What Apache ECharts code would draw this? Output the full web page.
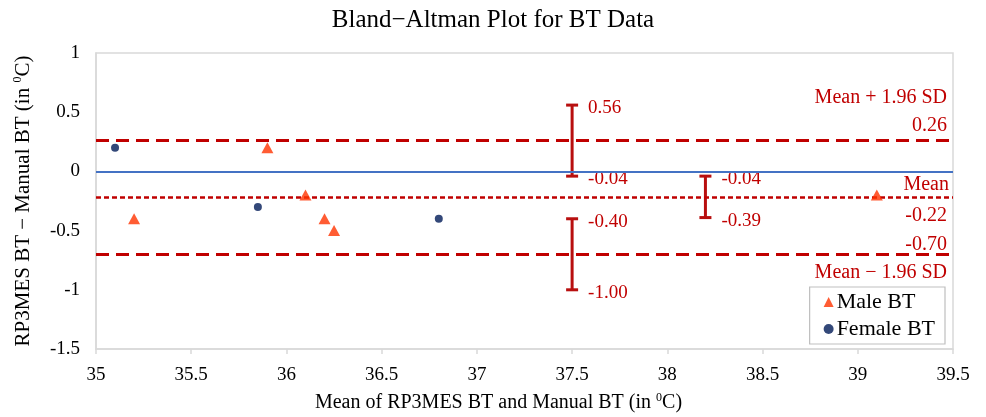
<!DOCTYPE html>
<html>
<head>
<meta charset="utf-8">
<script src="https://cdn.jsdelivr.net/npm/echarts@6/dist/echarts.min.js"></script>
<style>
  html, body { margin: 0; padding: 0; background: #fff; }
  #main { width: 986px; height: 417px; }
</style>
</head>
<body>
<div id="main"></div>
<script>
var chartTitle = 'Bland\u2212Altman Plot for BT Data';
var xTicks = [35, 35.5, 36, 36.5, 37, 37.5, 38, 38.5, 39, 39.5];
var yTicks = [-1.5, -1, -0.5, 0, 0.5, 1];

// points: mean of the two methods vs difference
var maleX = [35.2, 35.9, 36.1, 36.2, 36.25, 39.1];
var maleY = [-0.4, 0.2, -0.2, -0.4, -0.5, -0.2];
var femaleX = [35.1, 35.85, 36.8];
var femaleY = [0.2, -0.3, -0.4];

// limits of agreement
var upperLoA = 0.26;
var meanDiff = -0.22;
var lowerLoA = -0.70;

// confidence intervals drawn as error bars
var ciX = [37.5, 37.5, 38.2];
var ciLow = [-0.04, -1.00, -0.39];
var ciHigh = [0.56, -0.40, -0.04];

var red = '#C00000';
var serif = '"Liberation Serif", "Times New Roman", serif';

function pairs(xs, ys) {
    var out = [];
    for (var i = 0; i < xs.length; i++) out.push([xs[i], ys[i]]);
    return out;
}

var ciData = [];
for (var i = 0; i < ciX.length; i++) ciData.push([ciX[i], ciLow[i], ciHigh[i]]);

function lineLabel(pos, text, dist) {
    return {
        show: true, position: pos, formatter: text, color: red,
        fontFamily: serif, fontSize: 20, lineHeight: 28, align: 'right',
        distance: dist
    };
}

var hidden = { color: 'rgba(0,0,0,0)', width: 1, type: 'solid' };
var longDash = { color: red, width: 3, type: [13, 7] };
var shortDash = { color: red, width: 2.5, type: [5, 3] };
var supStyle = { fontFamily: serif, fontSize: 12, color: '#000', verticalAlign: 'top', padding: [0, 0, 10, 0] };

var myChart = echarts.init(document.getElementById('main'));
var option = {
    animation: false,
    backgroundColor: '#fff',
    title: {
        text: chartTitle, left: 'center', top: 3,
        textStyle: { fontFamily: serif, fontSize: 25, fontWeight: 'normal', color: '#000' }
    },
    grid: {
        left: 96, top: 53, right: 33, bottom: 68,
        outerBoundsMode: 'none', containLabel: false,
        show: true, borderColor: '#d9d9d9', borderWidth: 1.5
    },
    legend: {
        data: ['Male BT', 'Female BT'],
        orient: 'vertical', right: 41, top: 287,
        backgroundColor: '#fff', borderColor: '#bfbfbf', borderWidth: 1.2,
        padding: [4, 10, 4, 14], itemGap: 5, itemWidth: 10, itemHeight: 10,
        textStyle: { fontFamily: serif, fontSize: 22, color: '#000', padding: [0, 0, 0, -2] }
    },
    xAxis: {
        type: 'value', min: 35, max: 39.5, interval: 0.5,
        name: 'Mean of RP3MES BT and Manual BT (in {sup|0}C)',
        nameLocation: 'middle', nameGap: 43,
        nameTextStyle: {
            fontFamily: serif, fontSize: 20, color: '#000', padding: [0, 52, 0, 0],
            rich: { sup: supStyle }
        },
        axisLine: { onZero: false, lineStyle: { color: '#d9d9d9', width: 1.5 } },
        axisTick: { show: true, length: 5, lineStyle: { color: '#d9d9d9', width: 1.5 } },
        axisLabel: {
            fontFamily: serif, fontSize: 19, color: '#000', margin: 17,
            formatter: function (v) { return xTicks.indexOf(v) >= 0 ? String(v) : ''; }
        },
        splitLine: { show: false }
    },
    yAxis: {
        type: 'value', min: -1.5, max: 1, interval: 0.5,
        name: 'RP3MES BT \u2212 Manual BT (in {sup|0}C)',
        nameLocation: 'middle', nameGap: 62,
        nameTextStyle: {
            fontFamily: serif, fontSize: 21, color: '#000',
            rich: { sup: supStyle }
        },
        axisLine: { show: true, onZero: false, lineStyle: { color: '#d9d9d9', width: 1.5 } },
        axisTick: { show: false },
        axisLabel: {
            fontFamily: serif, fontSize: 19, color: '#000', margin: 16,
            formatter: function (v) { return yTicks.indexOf(v) >= 0 ? String(v) : ''; }
        },
        splitLine: { show: false }
    },
    series: [
        {
            name: 'limits', type: 'line', data: [], silent: true,
            markLine: {
                symbol: ['none', 'none'], silent: true, animation: false,
                data: [
                    { yAxis: 0, lineStyle: { color: '#4472C4', width: 2, type: 'solid' }, label: { show: false } },
                    { yAxis: upperLoA, lineStyle: longDash,
                      label: lineLabel('insideEndTop', 'Mean + 1.96 SD\n' + upperLoA.toFixed(2), [6, 1]) },
                    { yAxis: meanDiff, lineStyle: shortDash,
                      label: lineLabel('insideEndTop', 'Mean', [4, -1]) },
                    { yAxis: meanDiff, lineStyle: hidden,
                      label: lineLabel('insideEndBottom', meanDiff.toFixed(2), [6, 4]) },
                    { yAxis: lowerLoA, lineStyle: longDash,
                      label: lineLabel('insideEndTop', lowerLoA.toFixed(2), [6, -4]) },
                    { yAxis: lowerLoA, lineStyle: hidden,
                      label: lineLabel('insideEndBottom', 'Mean \u2212 1.96 SD', [6, 4]) }
                ]
            }
        },
        {
            name: 'ci', type: 'custom', data: ciData, silent: true,
            renderItem: function (params, api) {
                var top = api.coord([api.value(0), api.value(2)]);
                var bot = api.coord([api.value(0), api.value(1)]);
                var cap = 6;
                var style = { stroke: '#B80F0F', lineWidth: 3 };
                var txt = { fill: red, fontFamily: serif, fontSize: 19, textVerticalAlign: 'middle', textAlign: 'left' };
                return {
                    type: 'group',
                    children: [
                        { type: 'line', shape: { x1: top[0], y1: top[1], x2: bot[0], y2: bot[1] }, style: style },
                        { type: 'line', shape: { x1: top[0] - cap, y1: top[1], x2: top[0] + cap, y2: top[1] }, style: style },
                        { type: 'line', shape: { x1: bot[0] - cap, y1: bot[1], x2: bot[0] + cap, y2: bot[1] }, style: style },
                        { type: 'text', x: top[0] + 16, y: top[1] + 3,
                          style: Object.assign({ text: api.value(2).toFixed(2) }, txt) },
                        { type: 'text', x: bot[0] + 16, y: bot[1] + 3,
                          style: Object.assign({ text: api.value(1).toFixed(2) }, txt) }
                    ]
                };
            }
        },
        {
            name: 'Male BT', type: 'scatter', symbol: 'triangle', symbolSize: [12, 11],
            itemStyle: { color: '#FF3300' }, data: pairs(maleX, maleY), z: 5
        },
        {
            name: 'Female BT', type: 'scatter', symbol: 'circle', symbolSize: 8,
            itemStyle: { color: '#001A57' }, data: pairs(femaleX, femaleY), z: 5
        }
    ]
};
myChart.setOption(option);
</script>
</body>
</html>
